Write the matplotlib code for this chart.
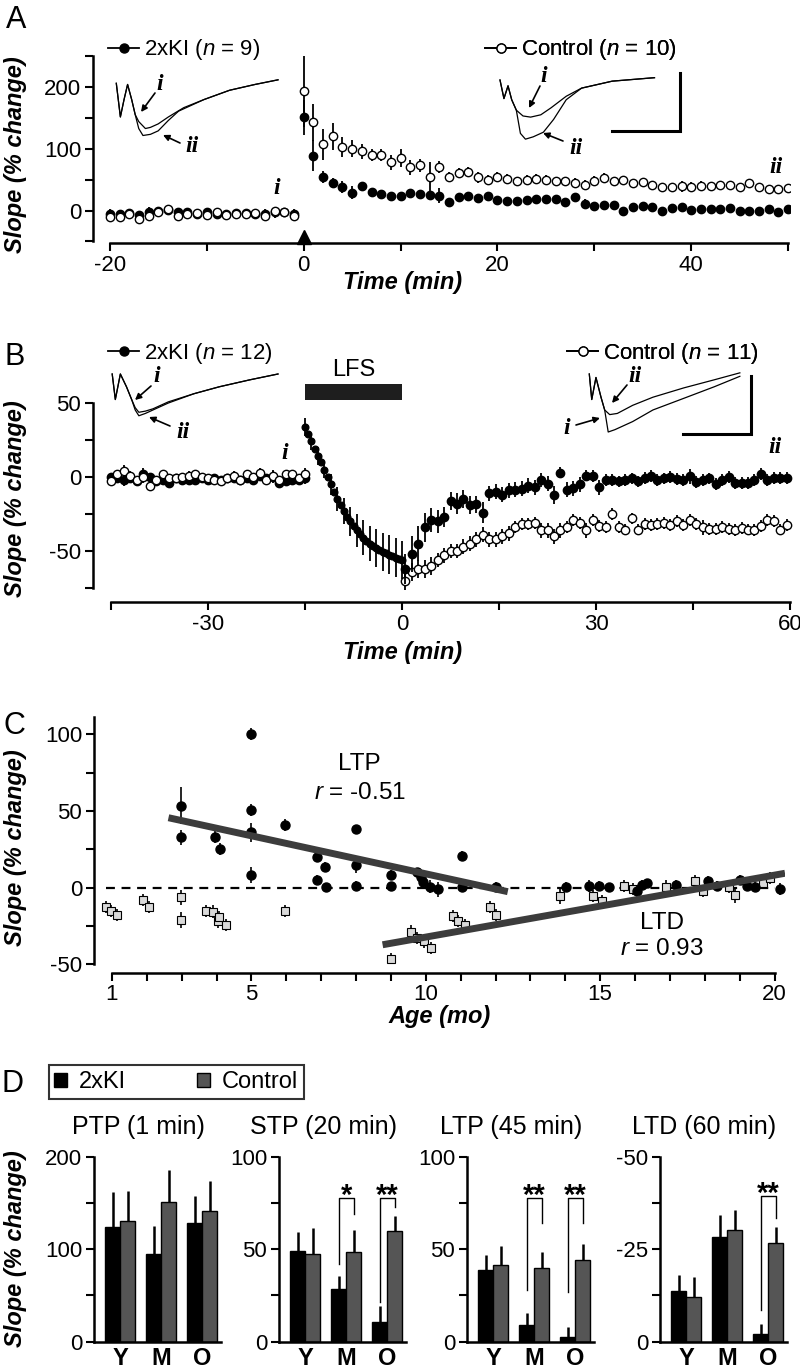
import numpy as np
import matplotlib
matplotlib.use("Agg")
import matplotlib.pyplot as plt
from matplotlib.lines import Line2D
from matplotlib.patches import Patch

plt.rcParams['font.family'] = ['Liberation Sans', 'DejaVu Sans']
plt.rcParams['mathtext.fontset'] = 'custom'
plt.rcParams['mathtext.it'] = 'Liberation Sans:italic'
plt.rcParams['mathtext.rm'] = 'Liberation Sans'
plt.rcParams['axes.unicode_minus'] = False
plt.rcParams['axes.linewidth'] = 1.8

# ---------------- data ----------------
# A: PTP/LTP time course (slope % change), baseline -20..-1, post 0..50 min
tA_base = np.arange(-20, 0)
kiA_base = [-5, -6, -4, -7, -2, 0, 1, -3, -3, -6, -3, -5, -6, -4, -4, -6, -5, -3, -2, -5]
kiA_base_err = [7, 7, 6, 7, 8, 6, 6, 6, 7, 6, 6, 9, 6, 6, 7, 8, 7, 9, 6, 7]
ctA_base = [-10, -11, -6, -14, -9, -2, 2, -9, -6, -4, -8, -3, -8, -5, -6, -4, -9, -1, -2, -9]
ctA_base_err = [6, 6, 6, 8, 7, 5, 5, 6, 6, 6, 6, 6, 5, 6, 6, 6, 6, 6, 6, 6]
tA_post = np.arange(0, 51)
kiA_post = [151, 89, 54, 45, 38, 29, 39, 30, 27, 23, 24, 28, 26, 25, 24, 14, 22, 23, 21, 23,
            17, 15, 15, 17, 18, 19, 19, 14, 22, 11, 7, 9, 9, 0, 6, 8, 5, 0, 4, 5,
            1, 3, 3, 2, 4, 0, -1, 0, 2, -2, 2]
kiA_post_err = [28, 25, 10, 8, 9, 10, 5, 6, 6, 6, 6, 7, 6, 6, 12, 6, 6, 6, 6, 6,
                5, 5, 5, 5, 5, 5, 5, 5, 6, 7, 6, 6, 6, 5, 5, 5, 5, 5, 6, 5,
                5, 5, 5, 5, 6, 6, 5, 5, 5, 5, 5]
ctA_post = [193, 143, 107, 120, 103, 100, 96, 90, 90, 78, 85, 70, 73, 54, 70, 54, 61, 62, 54, 50,
            54, 51, 47, 50, 51, 49, 48, 47, 44, 41, 48, 53, 48, 49, 44, 46, 42, 38, 38, 39,
            38, 40, 40, 42, 41, 38, 45, 38, 35, 35, 36]
ctA_post_err = [58, 30, 25, 22, 16, 14, 12, 10, 10, 12, 14, 12, 10, 25, 10, 8, 8, 8, 9, 8,
                8, 8, 8, 8, 8, 8, 7, 7, 8, 8, 8, 8, 7, 7, 7, 7, 6, 6, 6, 9,
                8, 8, 6, 6, 6, 6, 6, 7, 7, 7, 6]

# B: LTD time course, baseline -45..-15, LFS -15..0, post 0.5..59.5 min
tB_base = np.arange(-45, -14)
kiB_base = [0, -1, -2, -1, -3, 2, 0, -3, -2, -4, -1, -2, -2, -2, -1, -2, -1, -2, -1, -1,
            -2, -1, -2, 1, -1, 0, -4, -3, -2, -2, -1]
ctB_base = [-3, 2, 4, 1, -2, 0, -6, -2, 2, -1, -1, 0, 1, 2, 0, -1, -2, -3, -1, 1,
            -2, 2, 0, 3, -2, 1, -2, 2, 2, -1, 2]
B_base_err = [3, 3, 4, 3, 3, 4, 3, 3, 3, 3, 3, 3, 3, 3, 3, 3, 3, 3, 3, 3,
              3, 3, 3, 3, 3, 4, 3, 3, 3, 3, 4]
t_lfs = np.arange(-15, 0.01, 0.5)
lfs_val = [34, 29, 24, 19, 14, 10, 5, 0, -5, -10, -15, -19, -23, -27, -30, -33, -36, -38.5, -41, -43,
           -45, -46.5, -48, -49.5, -50.5, -51.5, -52.5, -53.5, -54.5, -55.5, -56]
lfs_err = [6, 6, 6, 6, 6, 6, 6, 7, 7, 7, 8, 8, 9, 9, 10, 10, 11, 11, 12, 12,
           12, 13, 13, 13, 13, 13, 13, 13, 13, 13, 13]
tB_post = np.arange(0.5, 60, 1.0)
kiB_post = [-62, -52, -45, -34, -29, -30, -27, -16, -18, -15, -19, -18.5, -24, -11, -10, -12, -9, -8.5, -8, -6,
            -7, -2, -4.5, -12, 3, -8.5, -7.5, -5, 1, 0.7, -7, -2, -2, -3, -2, -1, -3, -0.7, 0.7, -2,
            -1, 0, -1.5, -2, 0.5, -3.4, -2, -1, -5, -2, 0, -4, -4, -4, -2, 2, -2, -0.7, -0.7, -0.7]
kiB_post_err = [10, 12, 12, 10, 8, 8, 7, 6, 7, 6, 6, 6, 7, 5, 5, 5, 5, 5, 5, 5,
                5, 5, 5, 6, 4, 5, 5, 5, 4, 4, 5, 4, 4, 4, 4, 4, 4, 4, 4, 4,
                4, 4, 4, 4, 5, 4, 4, 4, 4, 4, 4, 4, 4, 4, 4, 4, 4, 4, 4, 4]
ctB_post = [-70, -64, -62, -62, -60, -56, -53, -50, -50, -47, -45, -42, -39, -42, -42, -40, -38, -34, -32, -31.5,
            -31, -36, -36, -40, -36, -34, -29, -31, -36, -29, -33, -34, -25, -34, -35.5, -28, -35.5, -31.5, -32.5, -32,
            -31, -32.5, -30, -32.5, -29, -31.5, -34, -35, -35, -34, -35, -36, -34.5, -35.5, -36, -33, -29, -30, -35.5, -32.5]
ctB_post_err = [8, 6, 6, 6, 6, 5, 5, 5, 5, 5, 5, 5, 5, 5, 5, 5, 5, 4, 4, 4,
                4, 5, 5, 5, 5, 4, 4, 4, 5, 4, 4, 4, 4, 4, 4, 4, 4, 4, 4, 4,
                4, 4, 4, 4, 4, 4, 5, 4, 4, 4, 4, 4, 4, 4, 4, 4, 4, 4, 4, 4]

# C: plasticity vs age
ltp_age = [2.98, 2.98, 4.99, 4.99, 4.99, 4.99, 3.96, 4.11, 5.95, 6.89, 7.11, 6.89, 7.15, 7.99, 7.99, 7.99,
           9.01, 9.01, 9.74, 9.86, 9.93, 10.12, 10.34, 11.03, 11.03, 12.01, 14.03, 14.69, 14.98, 15.24,
           16.05, 16.19, 16.33, 17.17, 18.09, 18.35, 19.0, 19.22, 19.44, 20.15]
ltp_val = [53.5, 32.8, 100.4, 50.6, 36.1, 8.3, 33.2, 25.4, 40.9, 19.8, 13.7, 5.2, 0.3, 38.1, 14.8, 1.2,
           8.3, 0.9, 10, 6.8, 3.5, 0.7, -1, 20.9, 0.7, 0.6, 0.6, 1.3, 1.3, 0.3,
           -2, 1.7, 2.8, 1.7, 4.5, 1.3, 5.0, 1.3, 0.6, -1]
ltp_err = [12, 5, 4, 4, 6, 5, 4, 4, 4, 3, 3, 3, 3, 3, 5, 3,
           3, 3, 3, 3, 3, 4, 5, 3, 3, 3, 3, 4, 3, 3,
           4, 3, 3, 3, 3, 3, 3, 3, 3, 4]
ltd_age = [0.82, 0.98, 1.15, 1.89, 2.06, 2.98, 2.98, 3.71, 3.9, 4.05, 4.08, 4.27, 5.95,
           9.01, 9.57, 9.76, 9.94, 10.15, 10.78, 10.93, 11.13, 11.83, 12.01,
           13.85, 14.8, 15.05, 15.68, 15.93, 16.88, 17.72, 17.94, 18.68, 18.86, 19.67, 19.86]
ltd_val = [-12.4, -15, -17.8, -8, -12.8, -6.3, -21, -15, -15.6, -22, -18.9, -24.3, -15,
           -46.4, -28.6, -32.8, -35, -39.3, -18.4, -21.7, -24.3, -12.4, -17.8,
           -5.4, -5.4, -8.5, 1.1, -1, 0.7, 4.4, -2, 0.7, -4.8, 3.1, 6.3]
ltd_err = [4, 4, 4, 4, 4, 5, 5, 4, 4, 4, 4, 4, 4,
           4, 4, 4, 4, 4, 4, 4, 4, 4, 4,
           5, 4, 4, 4, 4, 4, 4, 4, 4, 5, 4, 4]
ltp_fit_age = [2.62, 12.35]
ltp_fit_val = [45.6, -2.6]
ltd_fit_age = [8.76, 20.3]
ltd_fit_val = [-37.2, 9.4]

# D: bar summaries
groups = ['Y', 'M', 'O']
panels_D = [
    dict(title='PTP (1 min)', ki=[124, 95, 128], ki_err=[38, 30, 29],
         ct=[130, 151, 141], ct_err=[33, 35, 33], lim=(0, 200),
         ticks=[0, 50, 100, 150, 200], labels=['0', '', '100', '', '200'], sig=[]),
    dict(title='STP (20 min)', ki=[49, 28.4, 10.5], ki_err=[10.5, 7, 8.8],
         ct=[47.4, 48.3, 60], ct_err=[14, 12, 8], lim=(0, 100),
         ticks=[0, 25, 50, 75, 100], labels=['0', '', '50', '', '100'],
         sig=[(1, 77.7, 41.8, 68.8, '*'), (2, 77.7, 21.5, 73, '**')]),
    dict(title='LTP (45 min)', ki=[38.9, 9, 2.4], ki_err=[8, 6.4, 5.4],
         ct=[41.2, 40.1, 44.3], ct_err=[10.7, 8.4, 8.5], lim=(0, 100),
         ticks=[0, 25, 50, 75, 100], labels=['0', '', '50', '', '100'],
         sig=[(1, 77.7, 28, 64, '**'), (2, 77.7, 27, 64, '**')]),
    dict(title='LTD (60 min)', ki=[-13.6, -28.3, -2], ki_err=[4.5, 6, 2.7],
         ct=[-12.2, -30.1, -26.7], ct_err=[5.3, 5.6, 4.3], lim=(0, -50),
         ticks=[0, -12.5, -25, -37.5, -50], labels=['0', '', '-25', '', '-50'],
         sig=[(2, -39.3, -8.6, -33.5, '**')]),
]

# EPSP traces for insets (ms, mV)
trA_ki = dict(t0=[0, 0.30, 0.57, 0.83, 1.13, 1.39], v0=[0, -0.29, -0.14, -0.01, -0.14, -0.27],
              ti=[1.65, 2.14, 2.51, 3.08, 3.83, 4.96, 6.45, 8.33, 10.2, 11.89],
              vi=[-0.33, -0.39, -0.38, -0.35, -0.29, -0.21, -0.14, -0.06, -0.01, 0.03],
              tii=[1.65, 1.96, 2.51, 3.08, 3.83, 4.58, 6.45, 8.33, 10.2, 11.89],
              vii=[-0.39, -0.45, -0.44, -0.41, -0.32, -0.24, -0.14, -0.06, -0.01, 0.03])
trA_ct = dict(t0=[0, 0.29, 0.59, 0.86, 1.2], v0=[0, -0.16, -0.05, -0.17, -0.26],
              ti=[1.69, 2.25, 3.0, 3.75, 4.87, 6.0, 8.25, 11.36],
              vi=[-0.31, -0.32, -0.30, -0.24, -0.14, -0.07, -0.01, 0.02],
              tii=[1.5, 1.87, 2.44, 3.19, 3.94, 4.87, 6.0, 8.25, 11.36],
              vii=[-0.46, -0.51, -0.49, -0.45, -0.34, -0.17, -0.07, -0.01, 0.02])
trB_ki = dict(t0=[0, 0.23, 0.6, 1.05, 1.43], v0=[0, -0.22, 0, -0.11, -0.22],
              ti=[1.69, 1.96, 2.44, 3.0, 4.13, 6.01, 7.88, 10.13, 12.19],
              vi=[-0.29, -0.33, -0.32, -0.30, -0.24, -0.17, -0.11, -0.05, 0],
              tii=[1.69, 1.96, 2.44, 3.0, 4.13, 6.01, 7.88, 10.13, 12.19],
              vii=[-0.31, -0.36, -0.34, -0.31, -0.25, -0.17, -0.11, -0.05, 0])
trB_ct = dict(t0=[0, 0.18, 0.49, 0.86, 1.13], v0=[0, -0.22, -0.03, -0.2, -0.31],
              ti=[1.39, 1.88, 3.19, 4.68, 6.94, 9.19, 11.07],
              vi=[-0.5, -0.48, -0.41, -0.31, -0.21, -0.11, -0.02],
              tii=[1.5, 2.06, 3.19, 4.68, 6.94, 9.19, 11.07],
              vii=[-0.35, -0.34, -0.27, -0.2, -0.12, -0.05, 0.01])
scale_ms, scale_mv = 5, 0.5

# ---------------- layout helpers ----------------
W, H = 800, 1371
fig = plt.figure(figsize=(W / 100, H / 100), dpi=100)

TICK_FS = 16


def px_axes(left, top, right, bottom):
    return fig.add_axes([left / W, 1 - bottom / H, (right - left) / W, (bottom - top) / H])


def style(ax, out=0):
    for s in ['top', 'right']:
        ax.spines[s].set_visible(False)
    ax.spines['bottom'].set_position(('outward', out))
    ax.tick_params(direction='out', length=6, width=1.5, labelsize=TICK_FS, pad=2.5)
    ax.patch.set_alpha(0)


ERR = dict(capsize=0, elinewidth=1.3, ecolor='k', linestyle='none')
FILLED = dict(marker='o', mfc='k', mec='k', color='k', ms=6)
OPEN = dict(marker='o', mfc='w', mec='k', mew=1, color='k', ms=6)
LBL = dict(fontsize=17, fontweight='bold', fontstyle='italic')
ROMAN = dict(family='Liberation Serif', fontsize=17, fontweight='bold', fontstyle='italic')


def legend_at(ax, handle, text, x_px, y_px):
    lg = ax.legend([handle], [text], loc='center left', bbox_to_anchor=(x_px / W, 1 - y_px / H),
                   bbox_transform=fig.transFigure, frameon=False, fontsize=16,
                   handlelength=1.4, handletextpad=0.2, borderpad=0, borderaxespad=0)
    ax.add_artist(lg)


h_ki = Line2D([], [], color='k', lw=1.3, marker='o', ms=6.5, mfc='k', mec='k')
h_ct = Line2D([], [], color='k', lw=1.3, marker='o', ms=6.5, mfc='w', mec='k')

# ---------------- Panel A ----------------
axA = px_axes(93, 40.7, 790, 241.4)
style(axA, out=1.5)
axA.set_xlim(-21.75, 50.2)
axA.set_ylim(-50, 275)
axA.spines['left'].set_bounds(-50, 250)
axA.spines['bottom'].set_bounds(-20, 50)
axA.set_yticks(np.arange(-50, 251, 50))
axA.set_yticklabels(['', '0', '', '100', '', '200', ''])
axA.set_xticks(np.arange(-20, 51, 10))
axA.set_xticklabels(['-20', '', '0', '', '20', '', '40', ''])
axA.errorbar(tA_base, kiA_base, yerr=kiA_base_err, **ERR, **FILLED, zorder=3)
axA.errorbar(tA_base, ctA_base, yerr=ctA_base_err, **ERR, **OPEN, zorder=4)
axA.errorbar(tA_post, kiA_post, yerr=kiA_post_err, **ERR, **FILLED, zorder=3)
axA.errorbar(tA_post, ctA_post, yerr=ctA_post_err, **ERR, **OPEN, zorder=4)
axA.plot(0, -43, marker='^', ms=10, color='k', clip_on=False)
axA.text(-2.8, 36, 'i', ha='center', va='center', **ROMAN)
axA.text(48.8, 70, 'ii', ha='center', va='center', **ROMAN)
legend_at(axA, h_ki, '2xKI ($n$ = 9)', 108, 50)
legend_at(axA, h_ct, 'Control ($n$ = 10)', 485, 50)

# ---------------- Panel B ----------------
axB = px_axes(93, 334.9, 792, 590.1)
style(axB, out=8.6)
axB.set_xlim(-47.78, 60.3)
axB.set_ylim(-76.4, 96)
axB.spines['left'].set_bounds(-75, 50)
axB.spines['bottom'].set_bounds(-45, 60)
axB.set_yticks(np.arange(-75, 51, 25))
axB.set_yticklabels(['', '-50', '', '0', '', '50'])
axB.set_xticks(np.arange(-45, 61, 15))
axB.set_xticklabels(['', '-30', '', '0', '', '30', '', '60'])
axB.errorbar(tB_base, kiB_base, yerr=B_base_err, **ERR, **FILLED, zorder=3)
axB.errorbar(tB_base, ctB_base, yerr=B_base_err, **ERR, **OPEN, zorder=4)
axB.errorbar(t_lfs, lfs_val, yerr=lfs_err, errorevery=2, capsize=0, elinewidth=1.3, ecolor='k',
             linestyle='none', marker='o', mfc='k', mec='k', ms=4.8, zorder=3)
axB.errorbar(tB_post, ctB_post, yerr=ctB_post_err, **ERR, **OPEN, zorder=3)
axB.errorbar(tB_post, kiB_post, yerr=kiB_post_err, **ERR, **FILLED, zorder=4)
lfs_start, lfs_end = -15, 0
axB.barh(57.5, lfs_end - lfs_start, left=lfs_start, height=11, color='#1e1e1e')
axB.text((lfs_start + lfs_end) / 2, 72, 'LFS', ha='center', va='center', fontsize=17)
axB.text(-18.2, 16, 'i', ha='center', va='center', **ROMAN)
axB.text(57.7, 20, 'ii', ha='center', va='center', **ROMAN)
legend_at(axB, h_ki, '2xKI ($n$ = 12)', 108, 353)
legend_at(axB, h_ct, 'Control ($n$ = 11)', 567, 353)

# ---------------- Panel C ----------------
axC = px_axes(94, 717.4, 785, 964.4)
style(axC, out=5.9)
axC.set_xlim(0.484, 20.3)
axC.set_ylim(-50, 111)
axC.spines['left'].set_bounds(-50, 111)
axC.spines['bottom'].set_bounds(1, 20)
axC.set_yticks(np.arange(-50, 101, 25))
axC.set_yticklabels(['-50', '', '0', '', '50', '', '100'])
axC.set_xticks(np.arange(1, 21))
axC.set_xticklabels([str(a) if a in (1, 5, 10, 15, 20) else '' for a in range(1, 21)])
axC.axhline(0, xmin=0.018, xmax=0.985, color='k', lw=1.6, ls=(0, (4, 3)), zorder=1)
axC.errorbar(ltd_age, ltd_val, yerr=ltd_err, capsize=0, elinewidth=1.2, ecolor='k', linestyle='none',
             marker='s', mfc='#d9d9d9', mec='k', mew=0.8, ms=6, zorder=3)
axC.errorbar(ltp_age, ltp_val, yerr=ltp_err, capsize=0, elinewidth=1.2, ecolor='k', linestyle='none',
             marker='o', mfc='k', mec='k', ms=6.5, zorder=4)
axC.plot(ltp_fit_age, ltp_fit_val, color='#3c3c3c', lw=5, solid_capstyle='butt', zorder=5)
axC.plot(ltd_fit_age, ltd_fit_val, color='#3c3c3c', lw=5, solid_capstyle='butt', zorder=5)
axC.text(8.1, 80.6, 'LTP', ha='center', va='center', fontsize=17.5)
axC.text(8.1, 62, '$r$ = -0.51', ha='center', va='center', fontsize=17.5)
axC.text(16.76, -23, 'LTD', ha='center', va='center', fontsize=17.5)
axC.text(16.76, -40, '$r$ = 0.93', ha='center', va='center', fontsize=17.5)

# ---------------- Panel D ----------------
lefts_D = [94, 279, 467, 660]
x = np.arange(len(groups))
bw = 0.366
for left, p in zip(lefts_D, panels_D):
    ax = px_axes(left, 1156.7, left + 127, 1341.7)
    style(ax, out=0)
    ax.set_xlim(-0.634, 2.46)
    ax.set_ylim(*p['lim'])
    ax.set_yticks(p['ticks'])
    ax.set_yticklabels(p['labels'])
    ax.set_xticks(x)
    ax.set_xticklabels(groups, fontweight='bold', fontsize=17)
    ax.tick_params(axis='x', length=0, pad=4)
    neg = p['lim'][1] < 0
    for vals, errs, col, off in [(p['ki'], p['ki_err'], 'k', -bw / 2), (p['ct'], p['ct_err'], '#555555', bw / 2)]:
        ax.bar(x + off, vals, width=bw, color=col, edgecolor='k', linewidth=1, zorder=2)
        zeros = np.zeros(len(errs))
        yerr = [errs, zeros] if neg else [zeros, errs]
        ax.errorbar(x + off, vals, yerr=yerr, fmt='none', ecolor='k', elinewidth=1.8, capsize=0, zorder=1)
    for g, top, lend, rend, star in p['sig']:
        xl, xr = g - bw / 2, g + bw / 2
        ax.plot([xl, xl, xr, xr], [lend, top, top, rend], color='k', lw=1.0)
        ax.annotate(star, xy=(g, top), xytext=(0, -4), textcoords='offset points',
                    ha='center', va='baseline', fontsize=21, fontweight='bold')
    fig.text((left + 44) / W, 1 - 1127 / H, p['title'], ha='center', va='center', fontsize=18)

leg = fig.legend([Patch(fc='k', ec='k'), Patch(fc='#555555', ec='k')], ['2xKI', 'Control'],
                 loc='center left', bbox_to_anchor=(48.5 / W, 1 - 1082 / H), ncol=2,
                 frameon=True, fancybox=False, edgecolor='k', fontsize=17,
                 handlelength=0.55, handleheight=0.55, handletextpad=0.5, columnspacing=3.0,
                 borderpad=0.25, borderaxespad=0)
leg.get_frame().set_linewidth(1.5)

# ---------------- overlay: insets, arrows, labels ----------------
ov = fig.add_axes([0, 0, 1, 1])
ov.set_xlim(0, W)
ov.set_ylim(H, 0)
ov.axis('off')
MS_PX, MV_PX = 13.6, 116.0


def draw_traces(tr, x0, y0):
    for tk, vk in [('ti', 'vi'), ('tii', 'vii')]:
        t = np.array(tr['t0'] + tr[tk])
        v = np.array(tr['v0'] + tr[vk])
        ov.plot(x0 + t * MS_PX, y0 - v * MV_PX, color='k', lw=0.9)


def scalebar(xc, yc):
    ov.plot([xc - scale_ms * MS_PX, xc, xc], [yc, yc, yc - scale_mv * MV_PX], color='k', lw=2.2,
            solid_joinstyle='miter')


def arrow(tx, ty, ax_, ay_):
    ov.annotate('', xy=(ax_, ay_), xytext=(tx, ty),
                arrowprops=dict(arrowstyle='-|>', lw=1.2, color='k', mutation_scale=9, shrinkA=0, shrinkB=0))


draw_traces(trA_ki, 116.3, 83.3)
draw_traces(trA_ct, 500, 80)
scalebar(680, 131)
draw_traces(trB_ki, 112.2, 374)
draw_traces(trB_ct, 589.3, 374)
scalebar(751, 434)

for txt, tx, ty in [('i', 160, 84), ('ii', 192, 147), ('i', 544, 76), ('ii', 576, 148),
                    ('i', 157, 377), ('ii', 183, 432), ('ii', 635, 376), ('i', 567, 428)]:
    ov.text(tx, ty, txt, ha='center', va='center', **ROMAN)
for sx, sy, ex, ey in [(155, 93, 141, 112), (180, 143, 163, 135), (540, 86, 529, 108), (563, 141, 543, 133),
                       (151, 386, 135, 400), (170, 426, 149, 417), (627, 385, 612, 403), (576, 425, 600, 418)]:
    arrow(sx, sy, ex, ey)

# axis labels
for yc in [155, 499, 848, 1249]:
    fig.text(16 / W, 1 - yc / H, 'Slope (% change)', rotation=90, ha='center', va='center', **LBL)
fig.text(403 / W, 1 - 282 / H, 'Time (min)', ha='center', va='center', **LBL)
fig.text(403 / W, 1 - 652 / H, 'Time (min)', ha='center', va='center', **LBL)
fig.text(440 / W, 1 - 1017 / H, 'Age (mo)', ha='center', va='center', **LBL)

for lab, xc, yc in [('A', 16, 20), ('B', 15, 357), ('C', 14, 726), ('D', 13, 1084)]:
    fig.text(xc / W, 1 - yc / H, lab, ha='center', va='center', fontsize=22)

fig.savefig('out.png', dpi=100)
